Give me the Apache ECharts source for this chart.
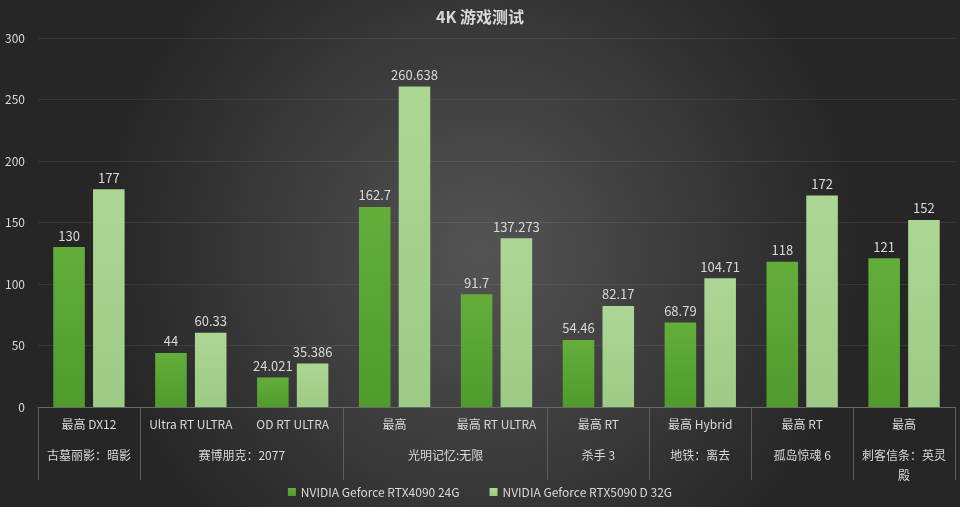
<!DOCTYPE html>
<html>
<head>
    <meta charset="utf-8">
    <title>4K 游戏测试</title>
    <script src="https://cdn.jsdelivr.net/npm/echarts@6/dist/echarts.min.js"></script>
    <style>
        html, body { margin: 0; padding: 0; background: #2b2b2b; }
    </style>
</head>
<body>
<div id="main" style="width: 960px;height:507px;"></div>
<script type="text/javascript">
// sub-settings (first row under the axis)
var settings = ['最高 DX12', 'Ultra RT ULTRA', 'OD RT ULTRA', '最高', '最高 RT ULTRA', '最高 RT', '最高 Hybrid', '最高 RT', '最高'];
// games (second row), each with how many settings it covers
var games = ['古墓丽影：暗影', '赛博朋克：2077', '光明记忆:无限', '杀手 3', '地铁：离去', '孤岛惊魂 6', '刺客信条：英灵殿'];
var gameSpans = [1, 2, 2, 1, 1, 1, 1];
var rtx4090 = [130, 44, 24.021, 162.7, 91.7, 54.46, 68.79, 118, 121];
var rtx5090d = [177, 60.33, 35.386, 260.638, 137.273, 82.17, 104.71, 172, 152];
var seriesNames = ['NVIDIA Geforce RTX4090 24G', 'NVIDIA Geforce RTX5090 D 32G'];

var font = 'Noto Sans CJK SC';
var textColor = '#d9d9d9';

// second axis works on half slots: 2*n+1 points, edges at even indices
var groupSlots = [];
var groupEdges = {0: true};
for (var i = 0; i <= settings.length * 2; i++) groupSlots.push('');
var pos = 0;
for (var g = 0; g < games.length; g++) {
    groupSlots[pos * 2 + gameSpans[g]] = games[g];
    pos += gameSpans[g];
    groupEdges[pos * 2] = true;
}

var myChart = echarts.init(document.getElementById('main'));
myChart.setOption({
    backgroundColor: {
        type: 'radial', x: 0.5, y: 0.5, r: 0.75,
        colorStops: [
            {offset: 0, color: '#545454'},
            {offset: 1, color: '#262626'}
        ]
    },
    textStyle: {fontFamily: font},
    title: {
        text: '4K 游戏测试',
        left: 'center',
        top: 4,
        textStyle: {color: textColor, fontSize: 16, fontWeight: 'bold', fontFamily: font}
    },
    legend: {
        bottom: 4,
        left: 'center',
        icon: 'rect',
        itemWidth: 8,
        itemHeight: 8,
        itemGap: 30,
        textStyle: {color: textColor, fontSize: 12, fontFamily: font}
    },
    grid: {left: 38, right: 5, top: 38, bottom: 100, outerBoundsMode: 'none'},
    xAxis: [
        {
            type: 'category',
            data: settings,
            axisLine: {lineStyle: {color: '#6a6a6a'}},
            axisTick: {show: false},
            axisLabel: {color: textColor, fontSize: 12, margin: 11, interval: 0, fontFamily: font}
        },
        {
            type: 'category',
            position: 'bottom',
            boundaryGap: false,
            data: groupSlots,
            axisLine: {show: false},
            axisTick: {
                show: true,
                length: 73,
                lineStyle: {color: '#5e5e5e'},
                interval: function (idx) { return !!groupEdges[idx]; }
            },
            axisLabel: {
                color: textColor, fontSize: 12, margin: 38, fontFamily: font,
                width: 96, overflow: 'break', lineHeight: 20,
                interval: function (idx, val) { return val !== ''; }
            }
        }
    ],
    yAxis: {
        type: 'value',
        min: 0,
        max: 300,
        interval: 50,
        axisLine: {show: false},
        axisTick: {show: false},
        axisLabel: {color: textColor, fontSize: 12, margin: 13, fontFamily: font},
        splitLine: {lineStyle: {color: 'rgba(255,255,255,0.08)'}}
    },
    series: [
        {
            name: seriesNames[0],
            type: 'bar',
            data: rtx4090,
            barCategoryGap: '30%',
            barGap: '26%',
            itemStyle: {
                color: {
                    type: 'linear', x: 0, y: 0, x2: 0, y2: 1,
                    colorStops: [{offset: 0, color: '#63ae3b'}, {offset: 1, color: '#4f9b2c'}]
                }
            },
            label: {show: true, position: 'top', color: textColor, fontSize: 13, fontFamily: font}
        },
        {
            name: seriesNames[1],
            type: 'bar',
            data: rtx5090d,
            barCategoryGap: '30%',
            barGap: '26%',
            itemStyle: {
                color: {
                    type: 'linear', x: 0, y: 0, x2: 0, y2: 1,
                    colorStops: [{offset: 0, color: '#acd694'}, {offset: 1, color: '#9dcb85'}]
                }
            },
            label: {show: true, position: 'top', color: textColor, fontSize: 13, fontFamily: font}
        }
    ]
});
</script>
</body>
</html>
